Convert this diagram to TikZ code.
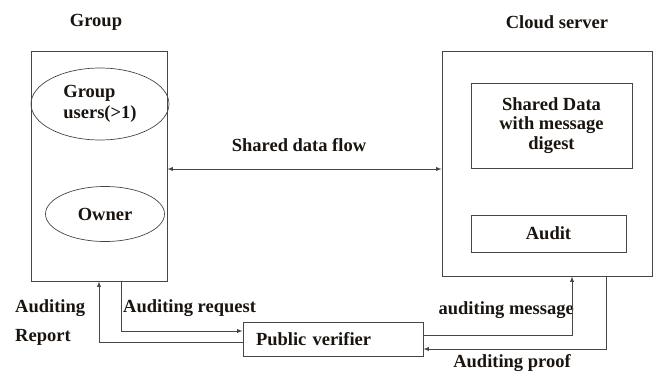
\documentclass[tikz,border=0pt]{standalone}
\usepackage{fontspec}
\setmainfont{Liberation Serif}
\usetikzlibrary{positioning}
\usetikzlibrary{calc}
\usetikzlibrary{arrows}
\usetikzlibrary{shapes}
\definecolor{linegray}{RGB}{70,70,70}
\definecolor{inkdark}{RGB}{25,20,15}

\begin{document}
\begin{tikzpicture}[
    x=1pt, y=-1pt,
    >=latex,
    % node styles
    outer/.style = {
      draw=linegray,
      line width=0.9pt,
      inner sep=0pt
    },
    inbox/.style = {
      draw=linegray,
      line width=0.9pt,
      align=center,
      inner sep=0pt,
      font=\fontsize{18.5}{19.5}\selectfont\bfseries,
      text=inkdark
    },
    oval/.style = {
      ellipse,
      draw=linegray,
      line width=0.7pt,
      inner sep=0pt,
      align=left,
      font=\fontsize{18.5}{21}\selectfont\bfseries,
      text=inkdark
    },
    tag/.style = {
      inner sep=0pt,
      align=left,
      font=\fontsize{18.5}{20}\selectfont\bfseries,
      text=inkdark
    },
    % arrow styles
    twoarr/.style = {<->, line width=0.9pt, draw=linegray},
    arr/.style = {->, line width=0.9pt, draw=linegray}
  ]
  \useasboundingbox (0,0) rectangle (655,372);

  % --- Nodes
  \node[outer, minimum width=136pt, minimum height=230pt] (grp) at (99,166) {};
  \node[outer, minimum width=210pt, minimum height=225pt] (cloud) at (547,163.5) {};

  \node[oval, minimum width=138pt, minimum height=72pt] (users) at (100,104) {Group\\users(>1)};
  \node[oval, minimum width=119pt, minimum height=55pt] (owner) at (105,214) {Owner};

  \node[inbox, minimum width=161pt, minimum height=85pt] (shared) at (551.5,125.5)
    {Shared Data\\with message\\digest};
  \node[inbox, minimum width=155pt, minimum height=37pt] (audit) at (548.5,233.5) {Audit};

  \node[inbox, minimum width=180pt, minimum height=34pt, text width=154pt,
        align=left] (verifier) at (333,339) {Public verifier};

  % --- Titles and labels
  \node[tag] (grptitle) at (96,22) {Group};
  \node[tag] (cloudtitle) at (557,22) {Cloud server};
  \node[tag] (flowlbl) at (299,145) {Shared data flow};
  \node[tag, anchor=west] (reqlbl) at (123,308) {Auditing request};
  \node[tag, anchor=west] (replbl) at (15,308) {Auditing};
  \node[tag, anchor=west] (replbl2) at (15,337) {Report};
  \node[tag, anchor=east] (msglbl) at (574,310) {auditing message};
  \node[tag] (prooflbl) at (512,363) {Auditing proof};

  % --- Arrows
  \coordinate (flow) at (300,169);
  \draw[twoarr] (grp.east |- flow) -- (cloud.west |- flow);

  \draw[arr] ([xshift=22pt]grp.south) |- ([yshift=8pt]verifier.west);
  \draw[arr] ([yshift=-3pt]verifier.west) -| (grp.south);
  \draw[arr] ([yshift=4pt]verifier.east) -| ([xshift=25pt]cloud.south);
  \draw[arr] ([xshift=59pt]cloud.south) |- ([yshift=-10pt]verifier.east);
\end{tikzpicture}
\end{document}
